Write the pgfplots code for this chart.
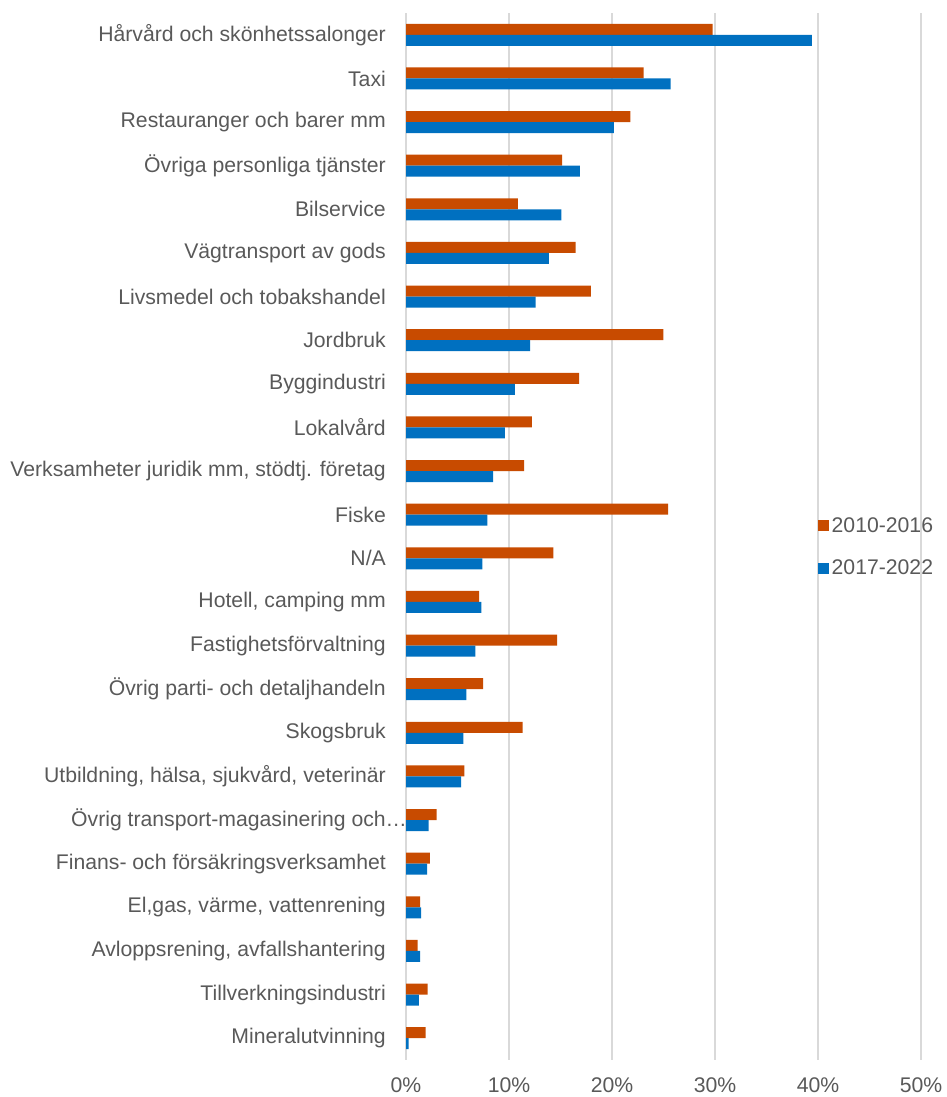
\documentclass[border=0pt]{standalone}
\usepackage{pgfplots}
\pgfplotsset{compat=1.18}
\usepackage{pgfplotstable}
\usepackage{fontspec}
\setmainfont{Liberation Sans}
\definecolor{orangeS}{HTML}{C84B00}
\definecolor{blueS}{HTML}{0070C0}
\definecolor{txt}{HTML}{595959}
\definecolor{grd}{HTML}{D9D9D9}
\pgfplotstableread{
idx a b
0 29.77 39.40
1 23.07 25.70
2 21.78 20.19
3 15.15 16.89
4 10.87 15.08
5 16.47 13.88
6 17.96 12.59
7 24.98 12.04
8 16.80 10.58
9 12.23 9.61
10 11.46 8.45
11 25.44 7.90
12 14.30 7.41
13 7.09 7.31
14 14.66 6.73
15 7.48 5.86
16 11.33 5.57
17 5.66 5.34
18 2.98 2.20
19 2.33 2.04
20 1.36 1.46
21 1.13 1.36
22 2.10 1.26
23 1.91 0.26
}\datatab
\begin{document}
\begin{tikzpicture}
\path[use as bounding box] (0,0) rectangle (946pt,1097pt);
\begin{axis}[
  at={(406pt,37pt)}, anchor=south west,
  scale only axis, width=515pt, height=1047pt,
  xbar, bar width=11pt,
  xmin=0, xmax=50, ymin=-0.5, ymax=23.5,
  y dir=reverse,
  axis line style={draw=none},
  xmajorgrids, grid style={grd, line width=1.2pt},
  xtick={0,10,20,30,40,50},
  xticklabels={0\%,10\%,20\%,30\%,40\%,50\%},
  ytick={0,...,23},
  yticklabels={Hårvård och skönhetssalonger,Taxi,Restauranger och barer mm,Övriga personliga tjänster,Bilservice,Vägtransport av gods,Livsmedel och tobakshandel,Jordbruk,Byggindustri,Lokalvård,{Verksamheter juridik mm, stödtj. företag},Fiske,N/A,{Hotell, camping mm},Fastighetsförvaltning,Övrig parti- och detaljhandeln,Skogsbruk,{Utbildning, hälsa, sjukvård, veterinär},Övrig transport-magasinering och\rlap{…},Finans- och försäkringsverksamhet,{El,gas, värme, vattenrening},{Avloppsrening, avfallshantering},Tillverkningsindustri,Mineralutvinning},
  major tick length=0pt,
  tick label style={font=\fontsize{21.2}{25}\selectfont, text=txt},
  yticklabel style={anchor=east, inner sep=0pt, xshift=-20pt},
  xticklabel style={anchor=north, inner sep=0pt, yshift=-17pt},
  legend style={draw=none, fill=none, at={(0.8,0.49)}, anchor=west,
    font=\fontsize{21.2}{25}\selectfont, text=txt, row sep=21pt, inner sep=0pt,
    nodes={inner sep=2.5pt}},
  legend cell align=left,
  legend image code/.code={\fill (0pt,-5.5pt) rectangle (11pt,5.5pt);},
]
\addplot[fill=orangeS, draw=none, bar shift=5.5pt] table[x=a, y=idx] {\datatab};
\addplot[fill=blueS, draw=none, bar shift=-5.5pt] table[x=b, y=idx] {\datatab};
\legend{2010-2016,2017-2022}
\end{axis}
\end{tikzpicture}
\end{document}
